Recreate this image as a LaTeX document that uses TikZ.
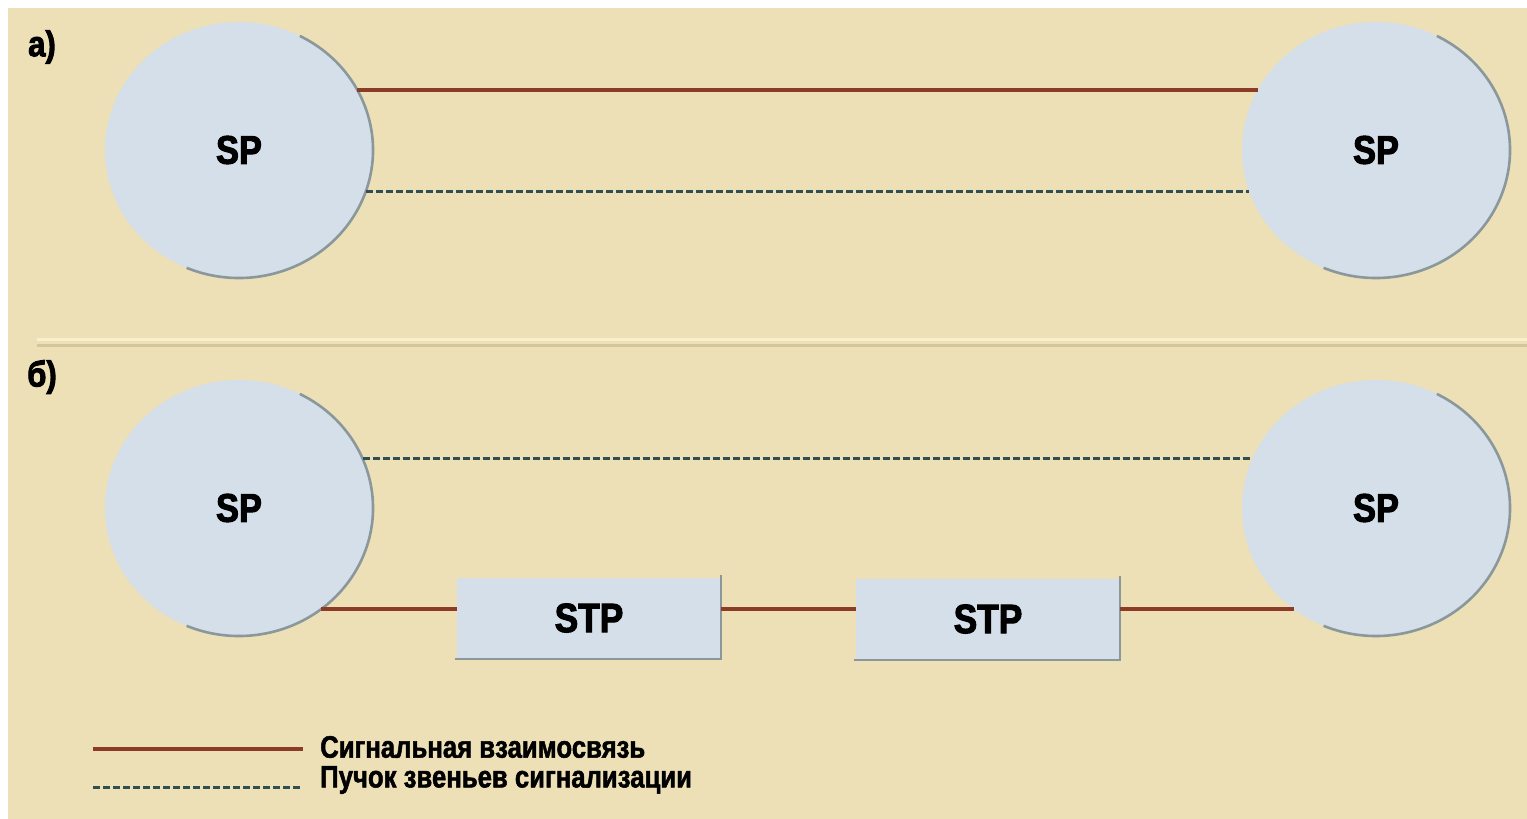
\documentclass[tikz,border=0pt]{standalone}
\usepackage{fontspec}
\setmainfont{Liberation Sans}
\newfontfamily\heavy[FakeStretch=0.86,FakeBold=2.5]{Liberation Sans Bold}
\newfontfamily\legfont[FakeStretch=0.83,FakeBold=1.6]{Liberation Sans Bold}
\usetikzlibrary{shapes.geometric,backgrounds}
\definecolor{bgbeige}{HTML}{EDE0B6}
\definecolor{nodefill}{HTML}{D4DFE9}
\definecolor{shadowgray}{HTML}{8A989C}
\definecolor{linkred}{HTML}{8B3B26}
\definecolor{linkteal}{HTML}{2F4F52}
\definecolor{seplight}{HTML}{F8EFCB}
\definecolor{sepdark}{HTML}{D3C69C}
\tikzset{
  spnode/.style={ellipse, fill=nodefill, draw=none, minimum width=268pt, minimum height=256pt, inner sep=0pt, font=\heavy\fontsize{40}{40}\selectfont},
  stpbox/.style={rectangle, fill=nodefill, draw=none, minimum width=264pt, minimum height=81pt, inner sep=0pt, font=\heavy\fontsize{41}{41}\selectfont},
  shadowarc/.style={draw=shadowgray, line width=2.6pt},
  redlink/.style={draw=linkred, line width=4pt},
  teallink/.style={draw=linkteal, line width=3pt, dash pattern=on 7pt off 3pt},
  partlabel/.style={font=\heavy\fontsize{36}{36}\selectfont, inner sep=0pt},
  legtext/.style={font=\legfont\fontsize{31}{31}\selectfont, anchor=west, inner sep=0pt}
}
\begin{document}
\begin{tikzpicture}[x=1pt,y=1pt]
\useasboundingbox (0,0) rectangle (1527,-819);
\fill[white] (0,0) rectangle (1527,-819);
\fill[bgbeige] (8,-8) rectangle (1527,-819);
% separator
\draw[seplight, line width=3pt] (37,-339) -- (1527,-339);
\draw[sepdark, line width=3pt] (37,-345) -- (1527,-345);
% part labels
\node[partlabel] (la) at (42,-47) {а)};
\node[partlabel] (lb) at (42,-377) {б)};
% nodes
\node[spnode] (sp1) at (239,-150) {SP};
\node[spnode] (sp2) at (1376,-150) {SP};
\node[spnode] (sp3) at (239,-508) {SP};
\node[spnode] (sp4) at (1376,-508) {SP};
\node[stpbox] (stp1) at (589,-618) {STP};
\node[stpbox] (stp2) at (988,-619) {STP};
% shadow arcs on circles
\foreach \n in {sp1,sp2,sp3,sp4}{
  \draw[shadowarc] ([shift={(63:134pt and 128pt)}]\n.center) arc[start angle=63, end angle=-113, x radius=134pt, y radius=128pt];
}
% shadow edges on STP boxes
\foreach \n in {stp1,stp2}{
  \draw[shadowarc, line width=2.4pt] ([yshift=2pt]\n.north east) -- (\n.south east) -- ([xshift=-2pt]\n.south west);
}
% connectors part a
\draw[redlink] (sp1.27) -- (sp2.153);
\draw[teallink] (sp1.-18) -- (sp2.-162);
% connectors part b
\draw[teallink] (sp3.22) -- (sp4.158);
\draw[redlink] (sp3.-51) -- (sp3.-51 -| stp1.west);
\draw[redlink] (sp3.-51 -| stp1.east) -- (sp3.-51 -| stp2.west);
\draw[redlink] (sp3.-51 -| stp2.east) -- (sp4.-129);
% legend
\coordinate (l1a) at (93,-749);
\coordinate (l1b) at (303,-749);
\coordinate (l2a) at (93,-787);
\coordinate (l2b) at (303,-787);
\draw[redlink, line width=3.5pt] (l1a) -- (l1b);
\draw[teallink, line width=3pt] (l2a) -- (l2b);
\node[legtext] (t1) at (320,-747) {Сигнальная взаимосвязь};
\node[legtext] (t2) at (320,-780) {Пучок звеньев сигнализации};
\end{tikzpicture}
\end{document}
